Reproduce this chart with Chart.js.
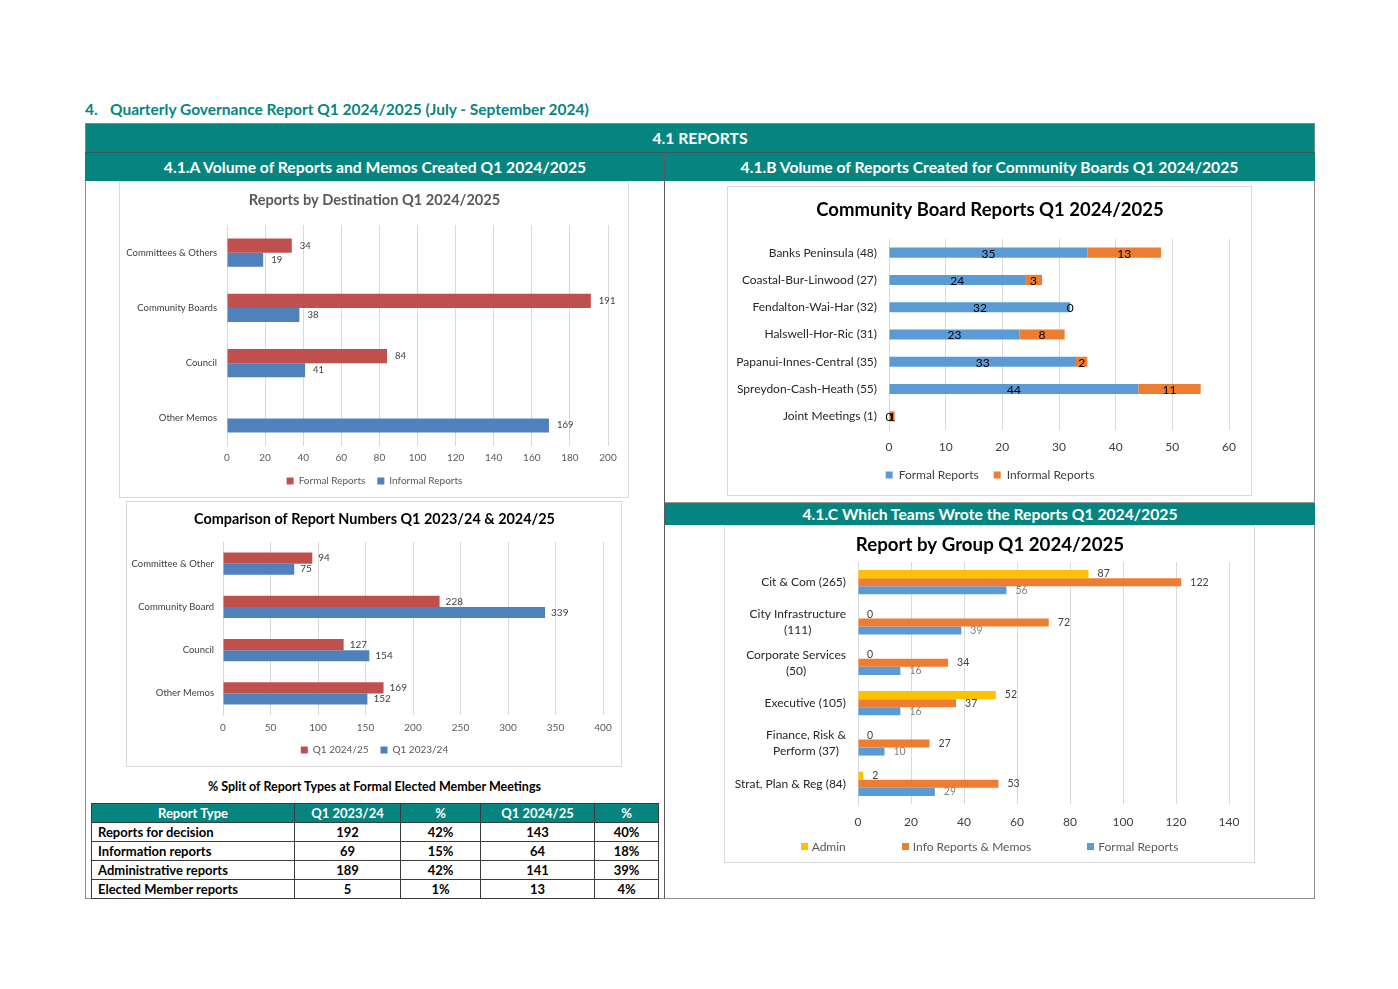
<!DOCTYPE html>
<html>
<head>
<meta charset="utf-8">
<script src="https://cdn.jsdelivr.net/npm/chart.js@4.4.1/dist/chart.umd.min.js"></script>
<style>
  body{margin:0;background:#fff;width:1398px;height:989px;position:relative;overflow:hidden;font-family:Lato,"Noto Sans",sans-serif;}
  .abs{position:absolute;box-sizing:border-box;}
  .band{background:#068580;color:#fff;font-weight:700;font-size:15.7px;display:flex;align-items:center;justify-content:center;white-space:nowrap;}
  .box{border:1px solid #d9d9d9;background:#fff;}
  canvas{display:block;position:absolute;left:0;top:0;}
  table{border-collapse:collapse;table-layout:fixed;font-size:13px;font-weight:700;color:#000;}
  td,th{border:1px solid #3c3c3c;height:19px;padding:0 6px;text-align:center;box-sizing:border-box;line-height:17px;white-space:nowrap;}
  th{background:#068580;color:#fff;}
  td.first{text-align:left;}
  .hlegend{display:flex;justify-content:center;align-items:center;gap:56px;font-size:12px;color:#595959;}
  .hlegend span.sw{display:inline-block;width:7px;height:7px;margin-right:4px;vertical-align:middle;position:relative;top:-1px;}
</style>
</head>
<body>
<!-- page heading -->
<div class="abs" style="left:85px;top:100px;font-size:15.5px;font-weight:700;color:#068580;white-space:nowrap;">4.</div>
<div class="abs" style="left:110px;top:100px;font-size:15.5px;font-weight:700;color:#068580;white-space:nowrap;">Quarterly Governance Report Q1 2024/2025 (July - September 2024)</div>

<!-- outer frame -->
<div class="abs" style="left:85px;top:123px;width:1230px;height:776px;border:1px solid #8c8c8c;"></div>
<div class="abs band" style="left:85px;top:123px;width:1230px;height:30px;border:1px solid #6e8f8e;">4.1 REPORTS</div>
<div class="abs band" style="left:85px;top:152px;width:580px;height:29px;border-top:1px solid #2f5f5e;">4.1.A Volume of Reports and Memos Created Q1 2024/2025</div>
<div class="abs band" style="left:664px;top:152px;width:651px;height:29px;border-top:1px solid #2f5f5e;">4.1.B Volume of Reports Created for Community Boards Q1 2024/2025</div>
<div class="abs" style="left:664px;top:152px;width:1px;height:747px;background:#5a5a5a;"></div>
<div class="abs band" style="left:665px;top:502px;width:650px;height:23px;border-top:1px solid #9a9a9a;">4.1.C Which Teams Wrote the Reports Q1 2024/2025</div>

<!-- chart boxes -->
<div class="abs box" id="w1" style="left:119px;top:181px;width:510px;height:317px;"><canvas id="c1" width="509" height="316"></canvas></div>
<div class="abs box" id="w2" style="left:126px;top:501px;width:496px;height:266px;"><canvas id="c2" width="495" height="265"></canvas></div>
<div class="abs box" id="w3" style="left:727px;top:186px;width:525px;height:310px;"><canvas id="c3" width="524" height="309"></canvas></div>
<div class="abs box" id="w4" style="left:724px;top:525px;width:531px;height:338px;"><canvas id="c4" width="530" height="337"></canvas></div>
<div class="abs hlegend" id="leg4" style="left:724px;top:837px;width:531px;height:18px;"></div>

<!-- table -->
<div class="abs" style="left:91px;top:779px;width:567px;text-align:center;font-size:12.5px;font-weight:700;color:#000;">% Split of Report Types at Formal Elected Member Meetings</div>
<div class="abs" style="left:91px;top:803px;">
  <table id="tbl">
    <colgroup><col style="width:203px"><col style="width:106px"><col style="width:80px"><col style="width:114px"><col style="width:64px"></colgroup>
    <thead><tr id="thead"></tr></thead>
    <tbody id="tbody"></tbody>
  </table>
</div>

<script>
// ---------------- DATA ----------------
const destCategories = ['Committees & Others', 'Community Boards', 'Council', 'Other Memos'];
const destFormal = [34, 191, 84, null];
const destInformal = [19, 38, 41, 169];

const compCategories = ['Committee & Other', 'Community Board', 'Council', 'Other Memos'];
const comp2425 = [94, 228, 127, 169];
const comp2324 = [75, 339, 154, 152];

const boardCategories = ['Banks Peninsula (48)', 'Coastal-Bur-Linwood (27)', 'Fendalton-Wai-Har (32)', 'Halswell-Hor-Ric (31)', 'Papanui-Innes-Central (35)', 'Spreydon-Cash-Heath (55)', 'Joint Meetings (1)'];
const boardFormal = [35, 24, 32, 23, 33, 44, 0];
const boardInformal = [13, 3, 0, 8, 2, 11, 1];

const groupCategories = [['Cit & Com (265)'], ['City Infrastructure', '(111)'], ['Corporate Services', '(50)'], ['Executive (105)'], ['Finance, Risk &', 'Perform (37)'], ['Strat, Plan & Reg (84)']];
const groupAdmin = [87, 0, 0, 52, 0, 2];
const groupInfo = [122, 72, 34, 37, 27, 53];
const groupFormal = [56, 39, 16, 16, 10, 29];

const tableHeaders = ['Report Type', 'Q1 2023/24', '%', 'Q1 2024/25', '%'];
const reportTypes = ['Reports for decision', 'Information reports', 'Administrative reports', 'Elected Member reports'];
const q2324 = [192, 69, 189, 5];
const pct2324 = ['42%', '15%', '42%', '1%'];
const q2425 = [143, 64, 141, 13];
const pct2425 = ['40%', '18%', '39%', '4%'];

// ---------------- TABLE ----------------
document.getElementById('thead').innerHTML = tableHeaders.map(h => '<th>' + h + '</th>').join('');
document.getElementById('tbody').innerHTML = reportTypes.map((t, i) =>
  '<tr><td class="first">' + t + '</td><td>' + q2324[i] + '</td><td>' + pct2324[i] + '</td><td>' + q2425[i] + '</td><td>' + pct2425[i] + '</td></tr>').join('');

// ---------------- CHARTS ----------------
const FONT = 'Lato, "Noto Sans", sans-serif';
Chart.defaults.font.family = FONT;
Chart.defaults.animation = false;

const valueLabels = {
  id: 'valueLabels',
  afterDatasetsDraw(chart, args, opts) {
    if (!opts || !opts.mode) return;
    const ctx = chart.ctx;
    chart.data.datasets.forEach((ds, di) => {
      const meta = chart.getDatasetMeta(di);
      meta.data.forEach((bar, i) => {
        const v = ds.data[i];
        if (v === null || v === undefined) return;
        ctx.save();
        ctx.font = opts.font;
        ctx.fillStyle = opts.colors[di];
        ctx.textBaseline = 'middle';
        if (opts.mode === 'center') {
          ctx.textAlign = 'center';
          ctx.fillText(String(v), (bar.x + bar.base) / 2, bar.y + 1);
        } else {
          ctx.textAlign = 'left';
          ctx.fillText(String(v), bar.x + opts.offset, bar.y + (opts.dy || 0));
        }
        ctx.restore();
      });
    });
  }
};

const blockLabels = {
  id: 'blockLabels',
  afterDraw(chart, args, opts) {
    if (!opts || !opts.enabled) return;
    const ctx = chart.ctx, sc = chart.scales.y;
    ctx.save();
    ctx.font = opts.font;
    ctx.fillStyle = opts.color;
    ctx.textBaseline = 'middle';
    ctx.textAlign = 'center';
    chart.data.labels.forEach((lab, i) => {
      const lines = Array.isArray(lab) ? lab : [lab];
      const w = Math.max(...lines.map(l => ctx.measureText(l).width));
      const right = chart.chartArea.left - opts.pad;
      const cx = right - w / 2;
      const y0 = sc.getPixelForTick(i) - (lines.length - 1) * opts.lineHeight / 2;
      lines.forEach((l, k) => ctx.fillText(l, cx, y0 + k * opts.lineHeight));
    });
    ctx.restore();
  }
};
Chart.register(valueLabels, blockLabels);

function hbar(id, s) {
  const tlh = s.titleSize * 1.2;
  const padTop = Math.max(0, s.titleCenter - tlh / 2);
  const titlePadBottom = s.areaTop - padTop - tlh;
  const tickLh = s.tickSize * 1.2;
  const tickPad = s.tickCenter - s.areaBottom - tickLh / 2;
  let padBottom, xAxisH;
  if (s.legend) {
    const itemH = Math.max(s.legendSize, 7);
    padBottom = Math.max(0, (s.H - s.legendCenter) - itemH / 2 - 10);
    const legendH = itemH + s.legendPad + 10;
    const legendTop = s.H - padBottom - legendH;
    xAxisH = legendTop - s.areaBottom;
  } else {
    xAxisH = tickPad + tickLh + 2;
    padBottom = s.H - s.areaBottom - xAxisH;
  }
  return new Chart(document.getElementById(id), {
    type: 'bar',
    data: { labels: s.labels, datasets: s.datasets },
    options: {
      indexAxis: 'y',
      responsive: false,
      maintainAspectRatio: false,
      layout: { padding: { top: padTop, bottom: padBottom, left: 0, right: 0 } },
      datasets: { bar: { categoryPercentage: s.catPct, barPercentage: s.barPct } },
      scales: {
        x: {
          stacked: !!s.stacked,
          min: 0, max: s.max,
          ticks: { stepSize: s.step, padding: tickPad, color: s.tickColor, font: { size: s.tickSize } },
          grid: { color: '#d9d9d9', drawTicks: false, lineWidth: 1 },
          border: { display: false },
          afterFit: sc => { sc.height = xAxisH; }
        },
        y: {
          stacked: !!s.stacked,
          ticks: { display: !s.customY, padding: s.yPad, color: s.yColor, font: { size: s.ySize } },
          grid: { display: false, drawTicks: false },
          border: { display: true, color: '#d9d9d9' },
          afterFit: sc => { sc.width = s.left; }
        },
        // empty right-hand spacer so the plot ends where the reference's does,
        // while the full-width title and legend stay centred on the box
        yRight: {
          type: 'linear', position: 'right', display: true,
          ticks: { display: false }, grid: { display: false, drawTicks: false }, border: { display: false },
          afterFit: sc => { sc.width = s.rightPad; }
        }
      },
      plugins: {
        title: { display: true, text: s.title, color: s.titleColor, font: { size: s.titleSize, weight: 'bold' }, padding: { top: 0, bottom: titlePadBottom } },
        legend: {
          display: !!s.legend, position: 'bottom',
          labels: { boxWidth: 7, boxHeight: 7, padding: s.legendPad || 10, color: s.legendColor || '#595959', font: { size: s.legendSize || 10 } }
        },
        tooltip: { enabled: false },
        valueLabels: s.valueLabels,
        blockLabels: s.blockLabels || { enabled: false }
      }
    }
  });
}

// Chart 1
hbar('c1', {
  H: 316, labels: destCategories,
  datasets: [
    { label: 'Formal Reports', data: destFormal, backgroundColor: '#C0504D' },
    { label: 'Informal Reports', data: destInformal, backgroundColor: '#4F81BD' }
  ],
  max: 200, step: 20, catPct: 0.51, barPct: 1,
  title: 'Reports by Destination Q1 2024/2025', titleSize: 14.6, titleColor: '#595959', titleCenter: 18,
  areaTop: 43, areaBottom: 264, tickCenter: 276, tickSize: 10, tickColor: '#595959',
  legend: true, legendCenter: 299, legendSize: 10, legendPad: 12,
  left: 107, rightPad: 21, yPad: 10, ySize: 9.5, yColor: '#404040',
  valueLabels: { mode: 'end', offset: 8, font: '9.5px ' + FONT, colors: ['#404040', '#404040'] }
});

// Chart 2
hbar('c2', {
  H: 265, labels: compCategories,
  datasets: [
    { label: 'Q1 2024/25', data: comp2425, backgroundColor: '#C0504D' },
    { label: 'Q1 2023/24', data: comp2324, backgroundColor: '#4F81BD' }
  ],
  max: 400, step: 50, catPct: 0.51, barPct: 1,
  title: 'Comparison of Report Numbers Q1 2023/24 & 2024/25', titleSize: 14.4, titleColor: '#000000', titleCenter: 17,
  areaTop: 40, areaBottom: 213, tickCenter: 226, tickSize: 10, tickColor: '#595959',
  legend: true, legendCenter: 248, legendSize: 10, legendPad: 12,
  left: 96, rightPad: 19, yPad: 9, ySize: 9.5, yColor: '#404040',
  valueLabels: { mode: 'end', offset: 6, font: '10px ' + FONT, colors: ['#404040', '#404040'] }
});

// Chart 3
hbar('c3', {
  H: 309, labels: boardCategories, stacked: true,
  datasets: [
    { label: 'Formal Reports', data: boardFormal, backgroundColor: '#5B9BD5' },
    { label: 'Informal Reports', data: boardInformal, backgroundColor: '#ED7D31' }
  ],
  max: 60, step: 10, catPct: 1, barPct: 0.37,
  title: 'Community Board Reports Q1 2024/2025', titleSize: 18.5, titleColor: '#000000', titleCenter: 23,
  areaTop: 52, areaBottom: 243, tickCenter: 260, tickSize: 12, tickColor: '#404040',
  legend: true, legendCenter: 288, legendSize: 12, legendPad: 15, legendColor: '#404040',
  left: 161, rightPad: 23, yPad: 12, ySize: 12, yColor: '#262626',
  valueLabels: { mode: 'center', font: '12px ' + FONT, colors: ['#000000', '#000000'] }
});

// Chart 4
hbar('c4', {
  H: 337, labels: groupCategories,
  datasets: [
    { label: 'Admin', data: groupAdmin, backgroundColor: '#FFC000' },
    { label: 'Info Reports & Memos', data: groupInfo, backgroundColor: '#ED7D31' },
    { label: 'Formal Reports', data: groupFormal, backgroundColor: '#5B9BD5' }
  ],
  max: 140, step: 20, catPct: 0.6, barPct: 1,
  title: 'Report by Group Q1 2024/2025', titleSize: 18.7, titleColor: '#000000', titleCenter: 19,
  areaTop: 36, areaBottom: 278, tickCenter: 296, tickSize: 12, tickColor: '#404040',
  legend: false,
  left: 133, rightPad: 26, yPad: 12, ySize: 12, yColor: '#262626', customY: true,
  blockLabels: { enabled: true, font: '12px ' + FONT, color: '#262626', pad: 12, lineHeight: 16 },
  valueLabels: { mode: 'end', offset: 9, font: '10.5px ' + FONT, colors: ['#404040', '#404040', '#808080'] }
});

// HTML legend for chart 4 (items spread widely as in the reference)
const leg4Items = [['Admin', '#FFC000'], ['Info Reports & Memos', '#ED7D31'], ['Formal Reports', '#5B9BD5']];
document.getElementById('leg4').innerHTML = leg4Items.map(([t, c]) =>
  '<div><span class="sw" style="background:' + c + '"></span>' + t + '</div>').join('');
</script>
</body>
</html>
